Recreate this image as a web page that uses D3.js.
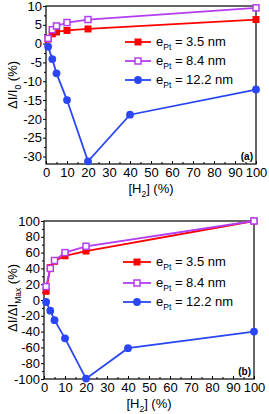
<!DOCTYPE html>
<html><head><meta charset="utf-8">
<script src="https://cdn.jsdelivr.net/npm/d3@7"></script>
<style>body{margin:0;background:#fff}svg{display:block;font-family:"Liberation Sans",Arial,sans-serif}</style>
</head><body>
<svg id="c" width="269" height="414"></svg>
<script>
const h2 = [1, 3, 5, 10, 20, 100];
const h2Blue = [1, 3, 5, 10, 20, 40, 100];
const a_e35 = [1.2, 2.6, 3.1, 3.5, 3.9, 6.4];
const a_e84 = [1.4, 3.7, 4.7, 5.6, 6.4, 9.5];
const a_e122 = [-0.8, -4.1, -7.9, -15.0, -31.3, -18.9, -12.2];
const b_e35 = [11, 41, 49, 56, 62, 100];
const b_e84 = [17, 40, 50, 60, 68, 100];
const b_e122 = [-2.5, -13.5, -25.5, -48.5, -99.5, -61, -40];
const legendLabels = ["3.5 nm", "8.4 nm", "12.2 nm"];
const xTicks = [0,10,20,30,40,50,60,70,80,90,100];
const aYTicks = [-30,-25,-20,-15,-10,-5,0,5,10];
const bYTicks = [-100,-80,-60,-40,-20,0,20,40,60,80,100];
const colors = ["#ff0000", "#b43cf2", "#2a46f5"];

const svg = d3.select("#c");

function panel(o) {
  const g = svg.append("g");
  const x = d3.scaleLinear().domain([0,100]).range([o.l, o.r]);
  const y = d3.scaleLinear().domain(o.yd).range([o.b, o.t]);
  g.append("rect").attr("x", o.l).attr("y", o.t).attr("width", o.r-o.l).attr("height", o.b-o.t)
    .attr("fill","none").attr("stroke","#000").attr("stroke-width",1.2);
  const xa = g.append("g").attr("transform",`translate(0,${o.b})`)
    .call(d3.axisBottom(x).tickValues(xTicks).tickSize(-3).tickPadding(4));
  const xm = g.append("g").attr("transform",`translate(0,${o.b})`)
    .call(d3.axisBottom(x).tickValues(d3.range(5,100,10)).tickSize(-2).tickFormat(""));
  const ya = g.append("g").attr("transform",`translate(${o.l},0)`)
    .call(d3.axisLeft(y).tickValues(o.yt).tickSize(3).tickPadding(1));
  const ym = g.append("g").attr("transform",`translate(${o.l},0)`)
    .call(d3.axisLeft(y).tickValues(o.ym).tickSize(2).tickFormat(""));
  [xa,xm,ya,ym].forEach(a=>{a.select(".domain").remove(); a.selectAll("line").attr("stroke","#000");
    a.selectAll("text").attr("font-size",13).attr("fill","#000").attr("font-family","Liberation Sans, Arial, sans-serif");});
  ya.selectAll("text").text(d => d < 0 ? "-" + Math.abs(d) : d);

  const line = d3.line().x(d=>x(d[0])).y(d=>y(d[1]));
  const series = [
    {xs:h2, ys:o.s[0], c:colors[0], m:"sq"},
    {xs:h2, ys:o.s[1], c:colors[1], m:"osq"},
    {xs:h2Blue, ys:o.s[2], c:colors[2], m:"ci"}
  ];
  const clip = "clip"+o.id;
  g.append("clipPath").attr("id",clip).append("rect").attr("x",o.l-6).attr("y",o.t-6).attr("width",o.r-o.l+12).attr("height",o.b-o.t+12);
  const dg = g.append("g").attr("clip-path",`url(#${clip})`);
  function marker(sel, m, c) {
    if (m === "ci") sel.append("circle").attr("r",3.9).attr("fill",c);
    else if (m === "sq") sel.append("rect").attr("x",-3.5).attr("y",-3.5).attr("width",7).attr("height",7).attr("fill",c);
    else sel.append("rect").attr("x",-3).attr("y",-3).attr("width",6).attr("height",6).attr("fill","#fff").attr("stroke",c).attr("stroke-width",1.5);
  }
  series.forEach(s=>{
    const pts = s.xs.map((v,i)=>[v,s.ys[i]]);
    dg.append("path").attr("d",line(pts)).attr("fill","none").attr("stroke",s.c).attr("stroke-width",1.8);
  });
  series.forEach(s=>{
    s.xs.forEach((v,i)=>{
      const mg = dg.append("g").attr("transform",`translate(${x(v)},${y(s.ys[i])})`);
      marker(mg, s.m, s.c);
    });
  });
  series.forEach((s,i)=>{
    const ly = o.legY[i];
    g.append("line").attr("x1",o.legX0).attr("x2",o.legX1).attr("y1",ly).attr("y2",ly).attr("stroke",s.c).attr("stroke-width",1.8);
    const mg = g.append("g").attr("transform",`translate(${(o.legX0+o.legX1)/2},${ly})`);
    marker(mg, s.m, s.c);
    const t = g.append("text").attr("x",o.legX1+5).attr("y",ly+4).attr("font-size",13).attr("fill","#000");
    t.append("tspan").text("e");
    t.append("tspan").attr("font-size",8.5).attr("dy",4).text("Pt");
    t.append("tspan").attr("dy",-4).text(" = " + legendLabels[i]);
  });
  g.append("text").attr("x",o.r-3).attr("y",o.b-4).attr("text-anchor","end").attr("font-size",10).attr("font-weight","bold").text(o.tag);
  const xl = g.append("text").attr("x",(o.l+o.r)/2).attr("y",o.b+29).attr("text-anchor","middle").attr("font-size",13);
  xl.append("tspan").text("[H");
  xl.append("tspan").attr("font-size",8.5).attr("dy",4).text("2");
  xl.append("tspan").attr("dy",-4).text("] (%)");
  const yl = g.append("text").attr("transform",`translate(17,${o.yc}) rotate(-90)`).attr("text-anchor","middle").attr("font-size",13);
  o.ylab(yl);
}

panel({id:"a", l:46, r:256, t:6, b:164, yd:[-32,10], yt:aYTicks, ym:d3.range(-32.5,10,5).filter(v=>v>-32),
  s:[a_e35,a_e84,a_e122], legX0:125, legX1:151, legY:[42,61,80], tag:"(a)", yc:85,
  ylab: t=>{t.append("tspan").text("ΔI/I"); t.append("tspan").attr("font-size",8.5).attr("dy",4).text("0"); t.append("tspan").attr("dy",-4).text(" (%)");}});
panel({id:"b", l:44, r:254, t:221, b:379, yd:[-100,100], yt:bYTicks, ym:d3.range(-90,100,20),
  s:[b_e35,b_e84,b_e122], legX0:123, legX1:151, legY:[262,283,302], tag:"(b)", yc:298,
  ylab: t=>{t.append("tspan").text("ΔI/ΔI"); t.append("tspan").attr("font-size",8.5).attr("dy",4).text("Max"); t.append("tspan").attr("dy",-4).text(" (%)");}});
</script>
</body></html>
